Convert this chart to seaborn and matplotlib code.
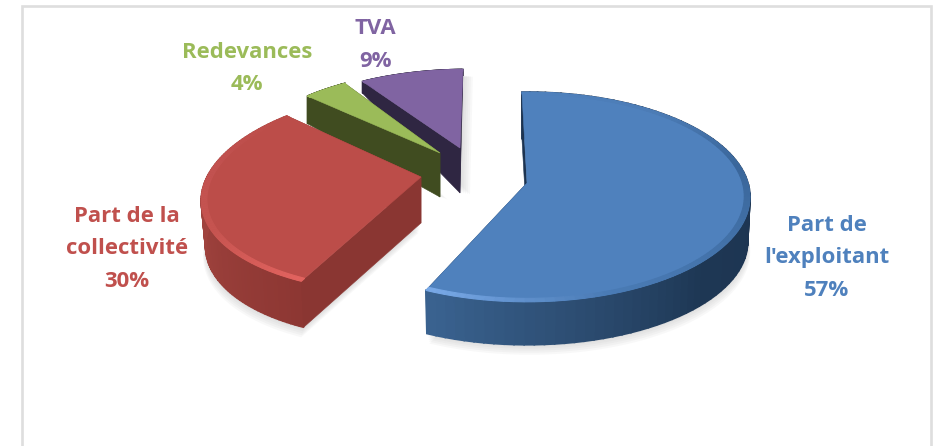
import numpy as np
import seaborn as sns
from matplotlib import pyplot as plt

labels = ["Part de\nl'exploitant", "Part de la\ncollectivité", "Redevances", "TVA"]
values = [57, 30, 4, 9]

# placement of each exploded slice on the canvas (pixels)
apex = [(527, 183), (421, 177), (440, 153), (460, 148)]
rad_x = [221, 214, 199, 207]
rad_y = [103, 100, 93, 89]
skew = [0.0, 0.209, 0.07, 0.098]
drop = [45, 46, 44, 45]
scale_x = [0.99, 0.98, 1.0, 1.0]
scale_y = [0.983, 1.0, 1.29, 1.5]
shadow = [(0.5, 2.0), (-0.5, 2.0), (1.5, 0.5), (2.0, 0.3)]

top_col = ['#4f81bd', '#bc4d49', '#9bbb59', '#8064a2']
face_col = ['#1c3350', '#8a3632', '#404c20', '#2f2642']
text_col = ['#4f81bd', '#c0504d', '#9bbb59', '#8064a2']
rim_cols = [['#1c3350', '#1c3350', '#1e3754', '#3a628f'],
            ['#8d3733', '#a0433e', '#a0433e'],
            ['#404c20', '#404c20'],
            ['#2f2642', '#2f2642']]
bevel_cols = [['#4f81bd', '#4c7cb6', '#3a669a', '#4271a8', '#4a7bb5', '#78a8e6'],
              ['#e2635f', '#c65450', '#c25250', '#bc4d49'],
              ['#9bbb59', '#9bbb59'],
              ['#8064a2', '#8064a2']]

text_pos = [(827, 258), (127, 249), (247, 68.5), (375, 45)]
pct_names = [f"{l}\n{v}%" for l, v in zip(labels, values)]

K = 0.133
START = -1.5
N = 90

sns.set_theme(style='white')
plt.rcParams['font.family'] = ['Open Sans', 'DejaVu Sans']

fig = plt.figure(figsize=(9.38, 4.46), dpi=100)
ax = fig.add_axes([0, 0, 1, 1])
ax.set_xlim(0, 938)
ax.set_ylim(446, 0)
ax.axis('off')

# frame of the chart, cut off at the bottom of the screenshot
ax.plot([21.5, 21.5, 931, 931], [446, 6, 6, 446], color='#dedede', lw=1.9, solid_joinstyle='miter')


def project(i, theta, r=1.0):
    t = np.radians(theta)
    u, v = r * np.sin(t), r * np.cos(t)
    w = 1 + K * v
    yy = rad_y[i] * v / w
    xx = rad_x[i] * u / w + skew[i] * yy
    return xx, yy


def lower(i, xx, yy):
    return xx * scale_x[i], yy * scale_y[i] - drop[i]


cum = START
spans = []
for val in values:
    spans.append((cum, cum + val * 3.6))
    cum += val * 3.6

for i in [3, 2, 1, 0]:
    t0, t1 = spans[i]
    cx, cy = apex[i]
    th = np.linspace(t0, t1, N)
    xx, yy = project(i, th)
    bx, by = lower(i, xx, yy)
    ab = lower(i, 0.0, 0.0)

    # soft shadow, from the underside only
    for k in range(1, 6):
        dx, dy = shadow[i]
        sx = np.r_[ab[0], bx] + cx + dx * k
        sy = cy - np.r_[ab[1], by] + dy * k
        ax.fill(sx, sy, color='#808080', alpha=0.05, lw=0, zorder=2 + (3 - i) * 3)

    z = 3 + (3 - i) * 3
    # hidden end cut, then outer wall, then start cut
    ax.fill([cx, cx + xx[-1], cx + bx[-1], cx + ab[0]],
            [cy, cy - yy[-1], cy - by[-1], cy - ab[1]], color=face_col[i], lw=0.4, zorder=z)
    wall = sns.blend_palette(rim_cols[i], N - 1)
    for j in range(N - 1):
        ax.fill([cx + xx[j], cx + xx[j + 1], cx + bx[j + 1], cx + bx[j]],
                [cy - yy[j], cy - yy[j + 1], cy - by[j + 1], cy - by[j]],
                color=wall[j], lw=1.2, zorder=z)
    ax.fill([cx, cx + xx[0], cx + bx[0], cx + ab[0]],
            [cy, cy - yy[0], cy - by[0], cy - ab[1]], color=face_col[i], lw=0.4, zorder=z)

    # top of the slice
    ax.fill(np.r_[cx, cx + xx], np.r_[cy, cy - yy], color=top_col[i], lw=0.4, zorder=z + 1)

    # bevel along the rim
    ix, iy = project(i, th, 0.975)
    bev = sns.blend_palette(bevel_cols[i], N - 1)
    for j in range(N - 1):
        ax.fill([cx + xx[j], cx + xx[j + 1], cx + ix[j + 1], cx + ix[j]],
                [cy - yy[j], cy - yy[j + 1], cy - iy[j + 1], cy - iy[j]],
                color=bev[j], lw=0.8, zorder=z + 1)

for name, pos, col in zip(pct_names, text_pos, text_col):
    ax.text(pos[0], pos[1], name, color=col, ha='center', va='center', fontsize=15.9,
            fontweight='bold', linespacing=1.7, zorder=30)

plt.savefig('out.png', dpi=100)
